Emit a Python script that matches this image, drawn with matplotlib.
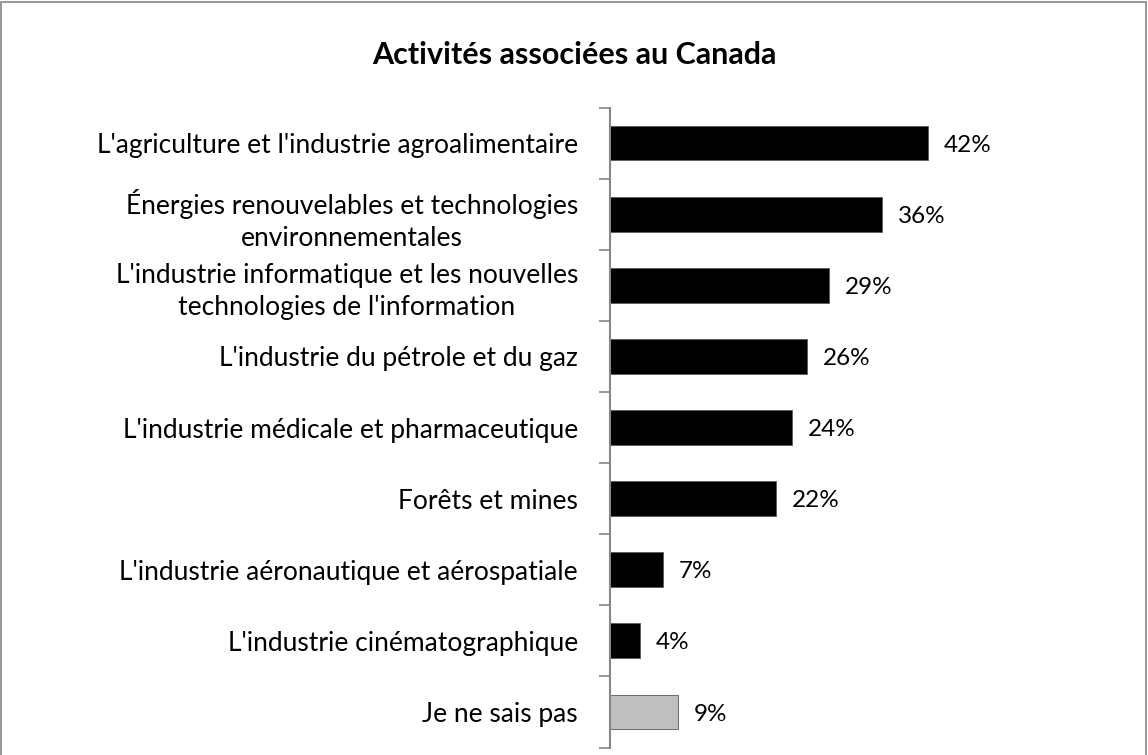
import matplotlib
matplotlib.use("Agg")
import matplotlib.pyplot as plt
from matplotlib.patches import Rectangle

categories = [
    "L'agriculture et l'industrie agroalimentaire",
    "Énergies renouvelables et technologies\nenvironnementales",
    "L'industrie informatique et les nouvelles\ntechnologies de l'information",
    "L'industrie du pétrole et du gaz",
    "L'industrie médicale et pharmaceutique",
    "Forêts et mines",
    "L'industrie aéronautique et aérospatiale",
    "L'industrie cinématographique",
    "Je ne sais pas",
]
values = [42, 36, 29, 26, 24, 22, 7, 4, 9]
colors = ["black"] * 8 + ["#bfbfbf"]

plt.rcParams['font.family'] = ['Lato', 'DejaVu Sans']

fig = plt.figure(figsize=(11.48, 7.55), dpi=100)
ax = fig.add_axes([0.5314, 0.0099, 0.3954, 0.8477])

n = len(categories)
ypos = list(range(n))
ax.barh(ypos, values, height=0.49, color=colors, edgecolor="#595959", linewidth=0.6)
for y, v in zip(ypos, values):
    ax.text(v + 2.1, y + 0.03, f"{v}%", va="center", ha="left", fontsize=17.5)

ax.set_xlim(0, 60)
ax.set_ylim(n - 0.5, -0.5)
ax.set_yticks(ypos)
ax.set_yticklabels(categories, fontsize=19, multialignment="center", linespacing=1.35)
ax.tick_params(axis="y", which="major", length=0, pad=23)
ax.set_yticks([k - 0.5 for k in range(n + 1)], minor=True)
ax.tick_params(axis="y", which="minor", length=8, width=1.2, color="#868686", direction="out")
ax.set_xticks([])
for s in ["top", "right", "bottom"]:
    ax.spines[s].set_visible(False)
ax.spines["left"].set_color("#868686")
ax.spines["left"].set_linewidth(1.5)

fig.text(0.5, 0.927, "Activités associées au Canada", ha="center", va="center",
         fontsize=22, fontweight="bold")

fig.patches.append(Rectangle((0.001, -0.01), 0.997, 1.008, transform=fig.transFigure,
                             fill=False, edgecolor="#868686", linewidth=1.2))

fig.savefig("out.png", dpi=100)
